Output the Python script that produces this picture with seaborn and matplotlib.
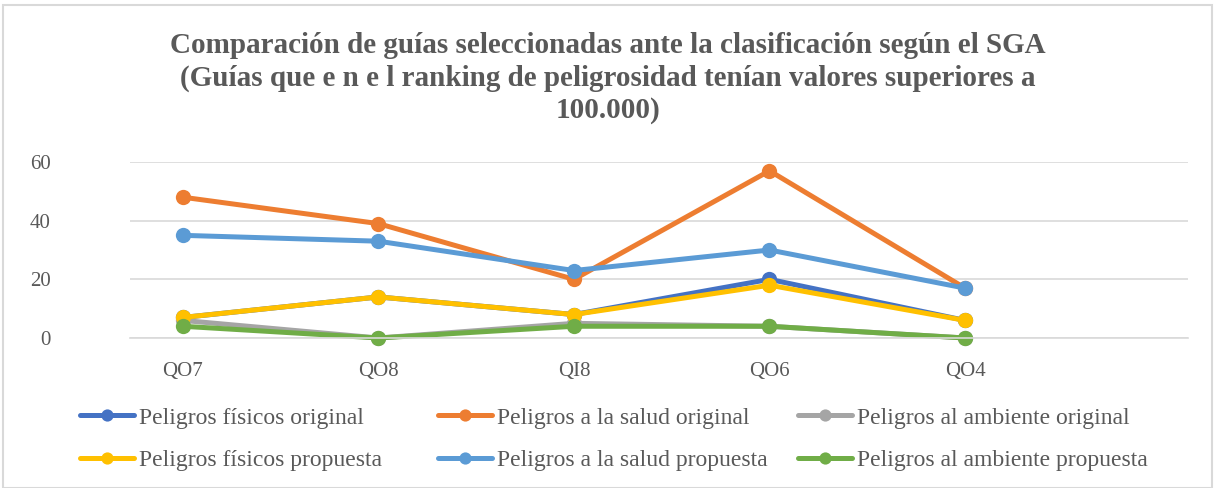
import seaborn as sns
import matplotlib.pyplot as plt
import pandas as pd

categories = ['QO7', 'QO8', 'QI8', 'QO6', 'QO4']
fisicos_original = [7, 14, 8, 20, 6]
salud_original = [48, 39, 20, 57, 17]
ambiente_original = [6, 0, 5, 4, 0]
fisicos_propuesta = [7, 14, 8, 18, 6]
salud_propuesta = [35, 33, 23, 30, 17]
ambiente_propuesta = [4, 0, 4, 4, 0]

series = {
    'Peligros físicos original': fisicos_original,
    'Peligros a la salud original': salud_original,
    'Peligros al ambiente original': ambiente_original,
    'Peligros físicos propuesta': fisicos_propuesta,
    'Peligros a la salud propuesta': salud_propuesta,
    'Peligros al ambiente propuesta': ambiente_propuesta,
}
colors = ['#4472C4', '#ED7D31', '#A5A5A5', '#FFC000', '#5B9BD5', '#70AD47']

title = ('Comparación de guías seleccionadas ante la clasificación según el SGA\n'
         '(Guías que e n e l ranking de peligrosidad tenían valores superiores a\n'
         '100.000)')

sns.set_style('white')
plt.rcParams['font.family'] = ['Liberation Serif', 'DejaVu Serif']

fig = plt.figure(figsize=(12.15, 4.88), dpi=100)
ax = fig.add_axes([130 / 1215, 150 / 488, 1058 / 1215, 176 / 488])

for (name, values), color in zip(series.items(), colors):
    df = pd.DataFrame({'x': range(len(categories)), 'y': values})
    sns.lineplot(data=df, x='x', y='y', ax=ax, color=color, linewidth=3.6,
                 marker='o', markersize=11, markeredgewidth=0, label=name,
                 clip_on=False, legend=False)

ax.set_xlim(-0.27, 5.14)
ax.set_ylim(0, 60)
ax.set_yticks([0, 20, 40, 60])
ax.set_xticks(range(len(categories)))
ax.set_xticklabels(categories)
ax.set_xlabel('')
ax.set_ylabel('')
ax.grid(axis='y', color='#D9D9D9', linewidth=1.2)
ax.set_axisbelow(True)
for s in ['top', 'right', 'left']:
    ax.spines[s].set_visible(False)
ax.spines['bottom'].set_color('#D9D9D9')
ax.spines['bottom'].set_linewidth(1.2)
ax.tick_params(axis='both', length=0, labelsize=15, colors='#595959')
ax.tick_params(axis='y', pad=57)
ax.tick_params(axis='x', pad=17)

fig.text(0.5, 1 - 78 / 488, title, ha='center', va='center', fontsize=21,
         fontweight='bold', color='#595959', linespacing=1.24)

handles, labels = ax.get_legend_handles_labels()
col_x = [80, 438, 798]
for i, x0 in enumerate(col_x):
    fig.legend([handles[i], handles[i + 3]], [labels[i], labels[i + 3]],
               loc='center left', bbox_to_anchor=(x0 / 1215, 1 - 439 / 488),
               frameon=False, fontsize=17, labelcolor='#595959', handlelength=2.3,
               handletextpad=0.2, labelspacing=0.88, borderaxespad=0, borderpad=0,
               markerscale=0.8)

border = plt.Rectangle((3 / 1215, 0), 1 - 6 / 1215, 1 - 5 / 488, transform=fig.transFigure,
                       fill=False, edgecolor='#D9D9D9', linewidth=1.5)
fig.add_artist(border)

fig.savefig('out.png', dpi=100)
